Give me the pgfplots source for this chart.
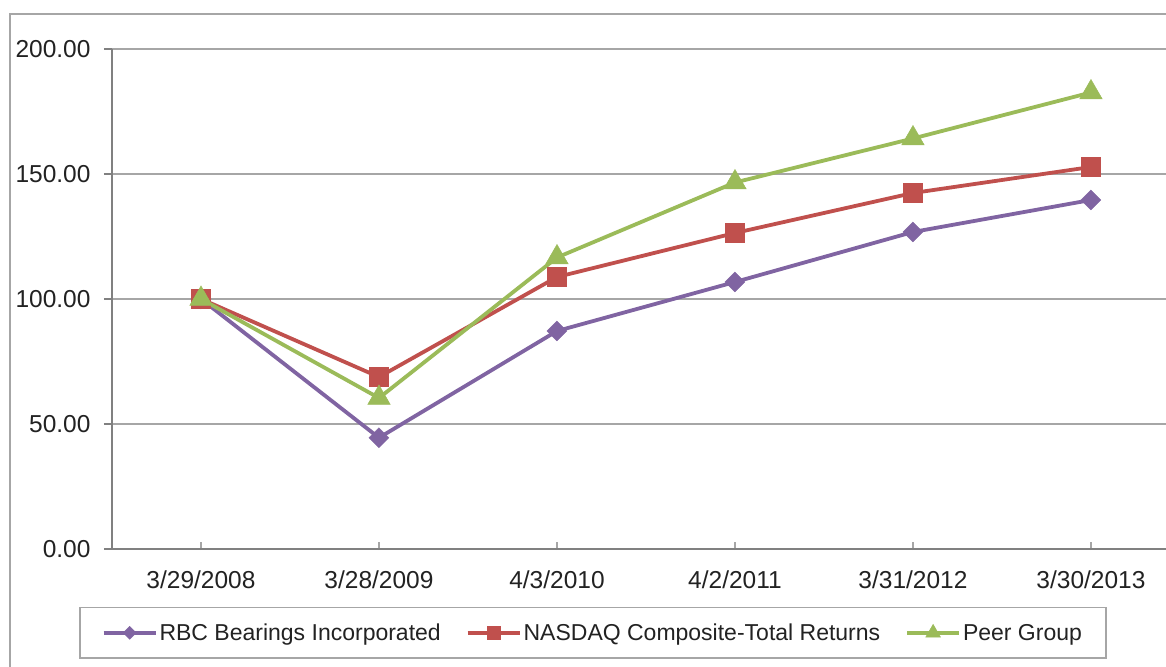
\documentclass[border=0pt]{standalone}
\usepackage{pgfplots}
\pgfplotsset{compat=1.18}
\usepackage{fontspec}
\setmainfont{Liberation Sans}
\definecolor{rbc}{HTML}{8064A2}
\definecolor{nas}{HTML}{C0504D}
\definecolor{peer}{HTML}{9BBB59}
\definecolor{gridc}{HTML}{A6A6A6}
\definecolor{axisc}{HTML}{808080}
\definecolor{txt}{HTML}{222222}
\begin{document}
\begin{tikzpicture}
\path[use as bounding box] (0,0) rectangle (1166pt,666pt);
\clip (0,0) rectangle (1166pt,666pt);
\draw[color=gridc, line width=1.8pt] (10pt,-20pt) rectangle (1200pt,652pt);
\begin{axis}[
  at={(112pt,117pt)}, anchor=south west,
  scale only axis, width=1068pt, height=500pt,
  xmin=-0.5, xmax=5.5, ymin=0, ymax=200,
  axis x line*=bottom, axis y line*=left,
  xtick={0,1,2,3,4,5},
  xticklabels={3/29/2008,3/28/2009,4/3/2010,4/2/2011,3/31/2012,3/30/2013},
  ytick={0,50,100,150,200},
  /pgf/number format/assume math mode=true,
  yticklabel style={/pgf/number format/fixed, /pgf/number format/fixed zerofill, /pgf/number format/precision=2, xshift=-10pt},
  tick label style={font=\fontsize{24.5}{29}\selectfont, text=txt},
  xticklabel style={yshift=-10pt},
  ymajorgrids,
  grid style={color=gridc, line width=1.4pt},
  axis line style={color=axisc, line width=2.4pt},
  tick align=outside,
  major tick length=8pt,
  tick style={color=axisc, line width=1.2pt},
  x tick style={yshift=7pt, color=gridc},
  clip=false,
  legend columns=3,
  legend cell align=left,
  legend style={
    at={(-0.0309,-0.116)}, anchor=north west,
    draw=gridc, line width=1.5pt,
    font=\fontsize{23}{27}\selectfont, text=txt,
    inner xsep=22pt, inner ysep=14pt,
    nodes={inner xsep=2pt},
    /tikz/every even column/.append style={column sep=23pt},
  },
  legend image code/.code={%
    \draw[mark repeat=2,mark phase=2,#1, every mark/.append style={scale=0.65}] plot coordinates {(0pt,0pt) (26pt,0pt) (52pt,0pt)};},
]
\addplot[color=rbc, line width=3.8pt, mark=square*, mark size=7pt,
  mark options={rotate=45, line width=0.5pt, fill=rbc}]
  coordinates {(0,100) (1,44.5) (2,87.2) (3,106.8) (4,126.8) (5,139.6)};
\addlegendentry{RBC Bearings Incorporated}
\addplot[color=nas, line width=3.8pt, mark=square*, mark size=9.5pt,
  mark options={line width=0.5pt, fill=nas}]
  coordinates {(0,100) (1,68.8) (2,108.8) (3,126.4) (4,142.4) (5,152.8)};
\addlegendentry{NASDAQ Composite-Total Returns}
\addplot[color=peer, line width=3.8pt, mark=triangle*, mark size=13pt,
  mark options={line width=0.5pt, fill=peer}]
  coordinates {(0,100) (1,60.4) (2,116.6) (3,146.6) (4,164.2) (5,182.6)};
\addlegendentry{Peer Group}
\end{axis}
\end{tikzpicture}
\end{document}
